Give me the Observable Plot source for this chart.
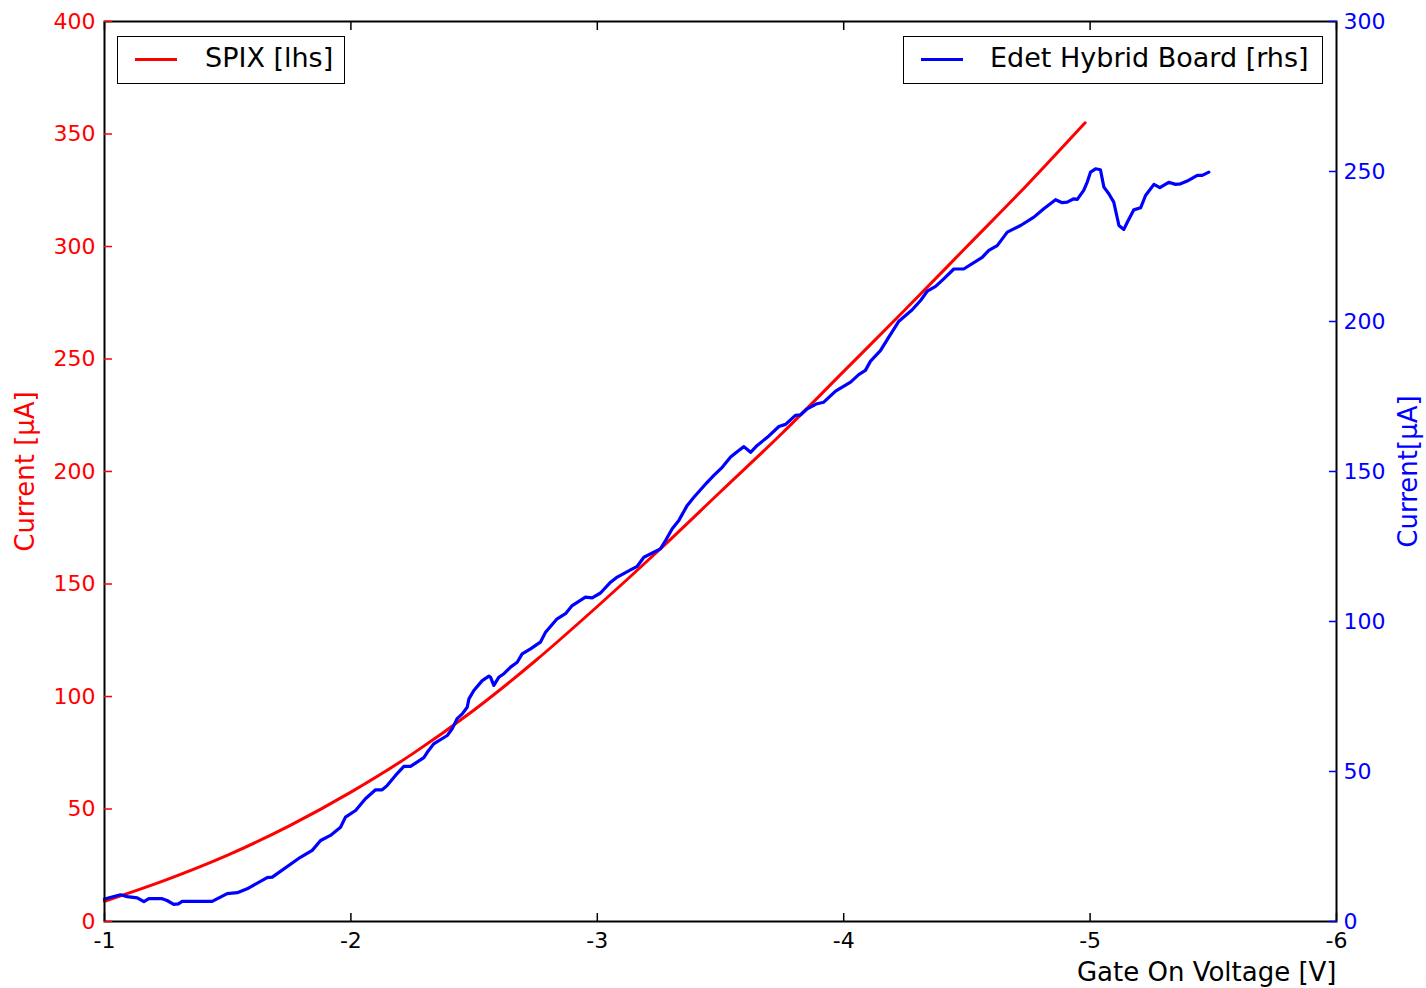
<!DOCTYPE html>
<html><head><meta charset="utf-8">
<script src="https://cdn.jsdelivr.net/npm/d3@7"></script>
<script src="https://cdn.jsdelivr.net/npm/@observablehq/plot@0.6"></script>
<style>
body{margin:0;background:#fff;font-family:"DejaVu Sans",sans-serif;}
#wrap{position:relative;width:1426px;height:988px;}
.legend{position:absolute;border:1.5px solid #000;background:#fff;box-sizing:border-box;font-size:27px;color:#000;white-space:nowrap;}
.legend .sw{position:absolute;height:3px;width:42px;top:50%;margin-top:-2px;}
.legend .lt{position:absolute;top:50%;transform:translateY(-60%);line-height:1;}
</style></head><body><div id="wrap"></div>
<script>
// X ticks (gate voltage, V)
const xTicks = [-1, -2, -3, -4, -5, -6];
const leftTicks = [0, 50, 100, 150, 200, 250, 300, 350, 400];
const rightTicks = [0, 50, 100, 150, 200, 250, 300];

// SPIX [lhs] — current in µA vs gate voltage
const spixV = [-1.0, -1.25, -1.5, -1.75, -2.0, -2.25, -2.5, -2.75, -3.0, -3.25, -3.5, -3.75, -4.0, -4.25, -4.5, -4.75, -4.98];
const spixI = [9, 18.5, 29.5, 42.5, 57.5, 74.5, 94, 116, 140, 165, 191, 217, 244.5, 272, 300, 328, 355];

// Edet Hybrid Board [rhs] — current in µA vs gate voltage
const hybridV = [-1.000,-1.065,-1.092,-1.133,-1.160,-1.180,-1.234,-1.254,-1.281,-1.300,-1.315,-1.437,-1.498,-1.539,-1.579,-1.660,-1.681,-1.795,-1.843,-1.877,-1.917,-1.958,-1.978,-2.019,-2.059,-2.100,-2.127,-2.147,-2.181,-2.215,-2.242,-2.296,-2.310,-2.336,-2.391,-2.411,-2.431,-2.452,-2.472,-2.479,-2.499,-2.533,-2.560,-2.567,-2.580,-2.600,-2.621,-2.648,-2.675,-2.695,-2.729,-2.769,-2.790,-2.837,-2.871,-2.898,-2.952,-2.979,-3.013,-3.054,-3.081,-3.135,-3.162,-3.189,-3.256,-3.277,-3.304,-3.331,-3.365,-3.392,-3.446,-3.473,-3.507,-3.541,-3.574,-3.595,-3.622,-3.649,-3.690,-3.737,-3.764,-3.804,-3.825,-3.852,-3.892,-3.919,-3.967,-4.028,-4.061,-4.088,-4.109,-4.149,-4.183,-4.210,-4.224,-4.278,-4.312,-4.339,-4.373,-4.406,-4.447,-4.487,-4.562,-4.589,-4.623,-4.664,-4.718,-4.772,-4.812,-4.860,-4.887,-4.907,-4.934,-4.948,-4.974,-4.988,-5.002,-5.022,-5.042,-5.056,-5.076,-5.096,-5.117,-5.137,-5.151,-5.177,-5.205,-5.225,-5.259,-5.283,-5.319,-5.347,-5.367,-5.394,-5.435,-5.455,-5.482];
const hybridI = [7.5,8.9,8.3,7.9,6.6,7.6,7.6,7.0,5.7,5.9,6.7,6.7,9.3,9.6,10.9,14.6,14.8,21.4,23.7,27.0,28.7,31.4,34.8,37.0,40.9,43.9,43.9,45.3,48.7,51.7,51.7,54.6,56.4,59.2,62.0,64.2,67.6,69.2,71.4,74.2,77.0,80.3,81.8,81.4,78.7,81.4,82.6,84.8,86.4,89.2,90.9,93.1,96.4,100.9,102.6,105.3,108.1,107.9,109.5,113.1,114.8,117.2,118.4,121.4,124.2,127.0,130.9,133.7,138.7,141.4,146.4,148.7,151.4,154.8,157.0,158.3,156.4,158.7,161.4,165.0,165.7,168.7,168.9,170.9,172.6,173.1,176.8,179.8,182.3,183.7,186.8,190.3,194.8,198.3,200.1,203.9,207.0,210.1,211.7,214.2,217.5,217.5,221.4,223.7,225.3,229.8,232.0,234.8,237.6,240.6,239.6,239.8,240.9,240.7,243.7,246.4,249.8,250.9,250.6,244.8,242.6,239.8,232.0,230.7,233.1,237.2,237.9,242.0,245.7,244.6,246.4,245.7,245.9,246.8,248.7,248.7,249.8];

const leftMax = 400, rightMax = 300;
const k = leftMax / rightMax;

const spix = spixV.map((v, i) => ({v, c: spixI[i]}));
const hybrid = hybridV.map((v, i) => ({v, c: hybridI[i]}));

const chart = Plot.plot({
  width: 1426, height: 988,
  marginLeft: 104, marginRight: 90, marginTop: 21, marginBottom: 67,
  style: {fontFamily: "DejaVu Sans", fontSize: "22px", background: "#fff", overflow: "visible"},
  x: {domain: [-1, -6], axis: null},
  y: {domain: [0, leftMax], axis: null},
  marks: [
    Plot.line(spix, {x: "v", y: "c", stroke: "#ff0000", strokeWidth: 3, curve: "monotone-x"}),
    Plot.line(hybrid, {x: "v", y: d => d.c * k, stroke: "#0000ff", strokeWidth: 3.2}),
    Plot.frame({stroke: "#000", strokeWidth: 2}),
    Plot.axisX(xTicks, {anchor: "bottom", label: null, tickSize: -8, tickPadding: 19, tickFormat: d => String(d), color: "#000", fontSize: 22, strokeWidth: 1.5}),
    Plot.axisX(xTicks, {anchor: "top", label: null, tickSize: -8, tickFormat: () => "", color: "#000", strokeWidth: 1.5}),
    Plot.axisY(leftTicks, {anchor: "left", label: null, tickSize: -8, tickPadding: 17, tickFormat: d => String(d), color: "#ff0000", fontSize: 22, strokeWidth: 1.5}),
    Plot.axisY(rightTicks.map(t => t * k), {anchor: "right", label: null, tickSize: -8, tickPadding: 15, tickFormat: d => String(Math.round(d / k)), color: "#0000ff", fontSize: 22, strokeWidth: 1.5}),
    Plot.text(["Current [μA]"], {text: d => d, frameAnchor: "left", textAnchor: "middle", lineAnchor: "middle", rotate: -90, dx: -79, fill: "#ff0000", fontSize: 26}),
    Plot.text(["Current[μA]"], {text: d => d, frameAnchor: "right", textAnchor: "middle", lineAnchor: "middle", rotate: -90, dx: 72, fill: "#0000ff", fontSize: 26}),
    Plot.text(["Gate On Voltage [V]"], {text: d => d, frameAnchor: "bottom-right", textAnchor: "end", lineAnchor: "middle", dy: 51, fill: "#000", fontSize: 26})
  ]
});

const wrap = document.getElementById("wrap");
wrap.appendChild(chart);

function legend(left, top, width, height, color, label, swLeft, txtLeft) {
  const box = document.createElement("div");
  box.className = "legend";
  Object.assign(box.style, {left: left + "px", top: top + "px", width: width + "px", height: height + "px"});
  const sw = document.createElement("div");
  sw.className = "sw";
  sw.style.left = swLeft + "px";
  sw.style.background = color;
  const t = document.createElement("div");
  t.className = "lt";
  t.style.left = txtLeft + "px";
  t.textContent = label;
  box.appendChild(sw);
  box.appendChild(t);
  wrap.appendChild(box);
}
legend(117, 36, 228, 48, "#ff0000", "SPIX [lhs]", 17, 87);
legend(903, 36, 420, 48, "#0000ff", "Edet Hybrid Board [rhs]", 17, 86);
</script>
</body></html>
